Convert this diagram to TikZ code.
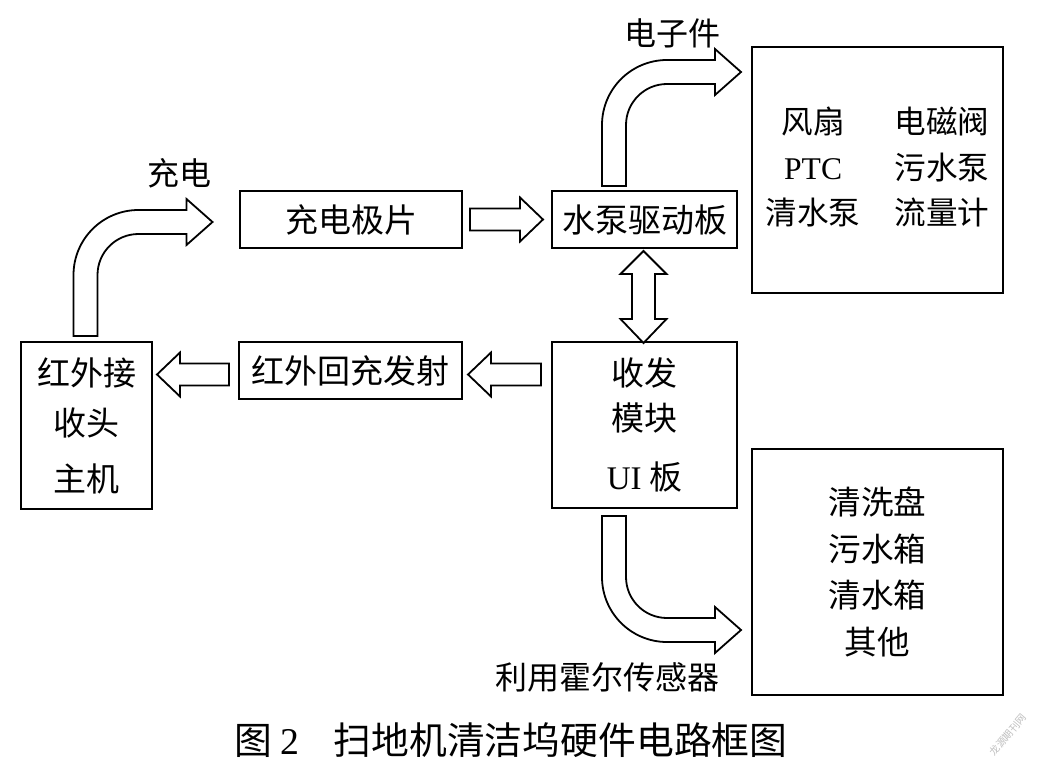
\documentclass[tikz,border=0pt]{standalone}
\usepackage{fontspec}
\setmainfont{Liberation Serif}
\newfontfamily\cjk{Noto Sans CJK SC}
\usetikzlibrary{calc}

\begin{document}
\begin{tikzpicture}[x=0.5pt,y=-0.5pt]
\tikzstyle{block}=[draw,line width=1pt,inner sep=0pt,align=center,font=\cjk\fontsize{16.5}{22.5}\selectfont]
\tikzstyle{arrowtext}=[font=\cjk\fontsize{16}{20}\selectfont]
\tikzstyle{hollow}=[draw,line width=0.9pt,fill=white,line join=miter]
\tikzset{
  pics/fatarrow/.style={code={
    \path[hollow] (0,-11) -- ({#1-23},-11) -- ({#1-23},-22) -- (#1,0) -- ({#1-23},22) -- ({#1-23},11) -- (0,11) -- cycle;}},
  pics/bentarrow/.style={code={
    \path[hollow] (-12,0) -- (-12,-61) arc[start angle=180,end angle=270,radius=65] -- (101,-126) -- (101,-137) -- (127,-114)
      -- (101,-91) -- (101,-102) -- (53,-102) arc[start angle=270,end angle=180,radius=41] -- (12,0) -- cycle;}},
  pics/bothway/.style={code={
    \path[hollow] (0,0) -- (23,23) -- (11.5,23) -- (11.5,68) -- (23,68) -- (0,92) -- (-23,68) -- (-11.5,68)
      -- (-11.5,23) -- (-23,23) -- cycle;}}
}

\fill[white] (0,0) rectangle (1037,775);
\useasboundingbox (0,0) rectangle (1037,775);

% boxes
\node[block,minimum width=111pt,minimum height=28.5pt](pad) at (351,219.5){充电极片};
\node[block,minimum width=92.5pt,minimum height=28.5pt](pump) at (644.5,219.5){水泵驱动板};
\node[block,minimum width=125.5pt,minimum height=123pt,font=\cjk\fontsize{15.8}{22.75}\selectfont](devices) at (877.5,170){%
  \begin{tabular}{@{}c@{\hspace{17pt}}c@{}}风扇 & 电磁阀\\ {\rmfamily PTC} & 污水泵\\ 清水泵 & 流量计\end{tabular}};
\node[block,minimum width=92.5pt,minimum height=83pt](ui) at (644.5,425){收发\\模块\\[7pt]{\rmfamily UI} 板};
\node[block,minimum width=111.5pt,minimum height=28.5pt](irtx) at (350.5,370.5){红外回充发射};
\node[block,minimum width=65.5pt,minimum height=83.5pt,font=\cjk\fontsize{16.5}{25}\selectfont](host) at (86.5,425.5){红外接\\收头\\[3pt]主机};
\node[block,minimum width=125.5pt,minimum height=123pt,font=\cjk\fontsize{16.3}{23.3}\selectfont](parts) at (877.5,572){清洗盘\\污水箱\\清水箱\\其他};

% block arrows
\pic at ($(pad.east)+(7,0)$) {fatarrow=73};
\pic[rotate=180] at ($(ui.west |- irtx.east)+(-10,4)$) {fatarrow=73};
\pic[rotate=180] at ($(irtx.west)+(-9,4)$) {fatarrow=72};
\pic at ($(pump.south)+(-1,2)$) {bothway};
\pic at ($(host.north)+(-1,-5)$) {bentarrow};
\pic at ($(pump.north)+(-30.5,-4)$) {bentarrow};
\pic[yscale=-1] at ($(ui.south)+(-30.5,7)$) {bentarrow};

% texts
\node[arrowtext](charge) at (179,173){充电};
\node[arrowtext](elec) at (672,33){电子件};
\node[arrowtext](hall) at (607,677){利用霍尔传感器};
\node[font=\cjk\fontsize{18.9}{22}\selectfont](caption) at (511,740){图 {\rmfamily 2}\hspace{0.9em}扫地机清洁坞硬件电路框图};
\node[text=black!25,rotate=50,font=\cjk\fontsize{5}{6}\selectfont](mark) at (1008,735){龙源期刊网};

\end{tikzpicture}
\end{document}
